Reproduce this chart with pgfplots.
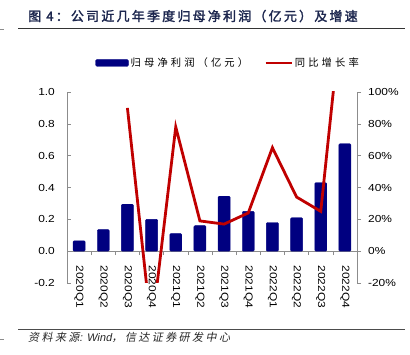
\documentclass[border=0pt]{standalone}
\usepackage{fontspec}
\usepackage{pgfplots}
\pgfplotsset{compat=1.18}
\setmainfont{Liberation Sans}
\newfontfamily\numfont{Liberation Sans}
\newfontfamily\cjk{Noto Sans CJK SC}[LetterSpace=30]
\newfontfamily\cjkb{Noto Sans CJK SC}[LetterSpace=17, FakeBold=2]
\newfontfamily\cjki{Noto Sans CJK SC}[LetterSpace=22, FakeSlant=0.2]
\newfontfamily\numi{Liberation Sans}[FakeSlant=0.2]
\definecolor{navy}{RGB}{0,0,128}
\definecolor{dred}{RGB}{192,0,0}
\definecolor{titleblue}{RGB}{28,38,78}
\definecolor{axgray}{RGB}{140,140,140}
\begin{document}
\begin{tikzpicture}
\useasboundingbox (0pt,0pt) rectangle (410pt,355pt);
\node[anchor=base west, text=titleblue, inner sep=0, font=\fontsize{13}{15}\selectfont] at (28pt,334pt) {\cjkb 图 4：公司近几年季度归母净利润（亿元）及增速};
\draw[black!80, line width=0.8pt] (18pt,326.5pt) -- (405pt,326.5pt);
\draw[axgray, line width=0.5pt] (0pt,325.5pt) -- (4pt,325.5pt);
\draw[black!70, line width=0.8pt] (18pt,26pt) -- (405pt,26pt);
\draw[axgray, line width=0.5pt] (0pt,16pt) -- (4pt,16pt);
\node[anchor=base west, inner sep=0, font=\fontsize{11}{13}\selectfont, text=black!85] at (28pt,13pt) {\cjki 资料来源\numi: Wind\cjki，信达证券研发中心};
\begin{axis}[
  at={(67pt,72pt)}, anchor=south west,
  scale only axis, width=290pt, height=191pt,
  xmin=-0.5, xmax=11.5, ymin=-0.2, ymax=1.0,
  axis x line=middle, axis y line*=left,
  every inner x axis line/.append style={-},
  axis line style={draw=axgray, line width=0.6pt},
  xtick={0,...,11},
  xticklabels={2020Q1,2020Q2,2020Q3,2020Q4,2021Q1,2021Q2,2021Q3,2021Q4,2022Q1,2022Q2,2022Q3,2022Q4},
  major x tick style={draw=none},
  minor xtick={-0.5,0.5,...,11.5},
  minor x tick style={draw=axgray, line width=0.6pt},
  minor tick length=4pt,
  xtick align=outside,
  xticklabel style={yshift=-9pt, rotate=-90, xscale=1.17, anchor=west, font=\numfont\fontsize{10.2}{12}\selectfont, inner sep=1pt},
  ytick={-0.2,0,0.2,0.4,0.6,0.8,1.0},
  ytick align=inside,
  major tick length=4pt,
  y tick style={draw=axgray, line width=0.6pt},
  yticklabel style={/pgf/number format/fixed, /pgf/number format/fixed zerofill, /pgf/number format/precision=1, /pgf/number format/assume math mode=true, font=\numfont\fontsize{10.2}{12}\selectfont, xshift=-8pt, xscale=1.17},
  clip=false,
]
\addplot[ybar, bar width=12pt, fill=navy, draw=navy, rounded corners=1pt] coordinates {
(0,0.065) (1,0.135) (2,0.295) (3,0.20) (4,0.11) (5,0.16) (6,0.345) (7,0.25) (8,0.18) (9,0.21) (10,0.43) (11,0.675)};
\end{axis}
\begin{axis}[
  at={(67pt,72pt)}, anchor=south west,
  scale only axis, width=290pt, height=191pt,
  xmin=-0.5, xmax=11.5, ymin=-20, ymax=100,
  axis x line=none, axis y line*=right,
  axis line style={draw=axgray, line width=0.6pt},
  ytick={-20,0,20,40,60,80,100},
  ytick align=outside,
  major tick length=4pt,
  y tick style={draw=axgray, line width=0.6pt},
  yticklabel={\pgfmathprintnumber{\tick}\%},
  yticklabel style={/pgf/number format/assume math mode=true, font=\numfont\fontsize{10.2}{12}\selectfont, xshift=3pt, xscale=1.17},
  legend style={at={(0.097,1.152)}, anchor=west, draw=none, fill=none, inner sep=0pt, legend columns=2, font=\fontsize{10.3}{12}\selectfont\cjk, /tikz/every even column/.append style={column sep=14pt}},
  legend cell align=left,
]
\addlegendimage{legend image code/.code={\fill[navy, rounded corners=1.5pt] (0pt,-3.5pt) rectangle (33pt,3.5pt);}}
\addlegendentry{归母净利润（亿元）}
\addplot[dred, line width=2.8pt, line join=miter, miter limit=10, legend image code/.code={\draw[dred, line width=2.8pt] (0pt,0pt) -- (26pt,0pt);}] coordinates {
(2,90) (3,-50) (4,78) (5,19) (6,17) (7,24) (8,65) (9,34) (10,25) (11,170)};
\addlegendentry{同比增长率}
\end{axis}
\end{tikzpicture}
\end{document}
